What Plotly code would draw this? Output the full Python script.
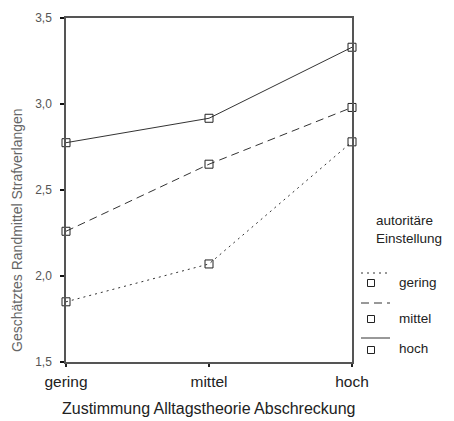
import plotly.graph_objects as go

# ---- data ----
categories = ["gering", "mittel", "hoch"]
series_names = ["gering", "mittel", "hoch"]
vals_gering = [1.85, 2.07, 2.78]
vals_mittel = [2.26, 2.65, 2.98]
vals_hoch = [2.775, 2.917, 3.33]
y_tickvals = [1.5, 2.0, 2.5, 3.0, 3.5]
y_ticktext = ["1,5", "2,0", "2,5", "3,0", "3,5"]

OFF = 8  # page body margin
W, H = 454 - OFF, 421 - OFF
L, T = 66 - OFF, 18 - OFF
PW, PH = 286, 344
R, B = W - L - PW, H - T - PH

def px(x):
    return (x - OFF - L) / PW

def py(y):
    return (T + PH - (y - OFF)) / PH

line_col = "#333333"
dashes = ["2px,4px", "8px,5px", "solid"]
series_vals = [vals_gering, vals_mittel, vals_hoch]

fig = go.Figure()
for name, vals, d in zip(series_names, series_vals, dashes):
    fig.add_trace(go.Scatter(
        x=list(range(len(categories))), y=vals, mode="lines+markers", name=name,
        line=dict(color=line_col, width=1, dash=d),
        marker=dict(symbol="square-open", size=8, color="#222222", line=dict(width=1)),
        cliponaxis=False, showlegend=False,
    ))

font_fam = "Liberation Sans, Arial, sans-serif"

fig.update_layout(
    width=W, height=H,
    margin=dict(l=L, r=R, t=T, b=B, autoexpand=False),
    paper_bgcolor="white", plot_bgcolor="white",
    font=dict(family=font_fam, color="#222222"),
    showlegend=False,
    xaxis=dict(
        range=[0, 2], tickvals=[0, 1, 2], ticktext=categories,
        showgrid=False, zeroline=False,
        showline=True, linecolor="#555555", linewidth=1.5, mirror=True,
        ticks="outside", ticklen=3, tickwidth=2, tickcolor="#222222",
        tickfont=dict(size=15.5, color="#222222"),
        ticklabelstandoff=2,
    ),
    yaxis=dict(
        range=[1.5, 3.5], tickvals=y_tickvals, ticktext=y_ticktext,
        showgrid=False, zeroline=False,
        showline=True, linecolor="#555555", linewidth=1.5, mirror=True,
        ticks="outside", ticklen=4, tickwidth=2, tickcolor="#111111",
        tickfont=dict(size=12, color="#555555"),
        ticklabelstandoff=6,
    ),
)

annotations = [
    dict(text="Geschätztes Randmittel Strafverlangen", x=px(17), y=py(230),
         xref="paper", yref="paper", showarrow=False, textangle=-90,
         font=dict(size=14, color="#666666"), xanchor="center", yanchor="middle"),
    dict(text="Zustimmung Alltagstheorie Abschreckung", x=px(208), y=py(408),
         xref="paper", yref="paper", showarrow=False,
         font=dict(size=16, color="#222222"), xanchor="center", yanchor="middle"),
    dict(text="autoritäre<br>Einstellung", x=px(374), y=py(229),
         xref="paper", yref="paper", showarrow=False, align="left",
         font=dict(size=13.5, color="#222222"), xanchor="left", yanchor="middle"),
]

shapes = []
leg_line_y = [273, 303, 338]
leg_mark_y = [283, 319, 350]
leg_text_y = [282, 318, 348]
for name, d, ly, my, ty in zip(series_names, dashes, leg_line_y, leg_mark_y, leg_text_y):
    shapes.append(dict(type="line", xref="paper", yref="paper",
                       x0=px(361), x1=px(390), y0=py(ly), y1=py(ly),
                       line=dict(color=line_col, width=1, dash=d)))
    shapes.append(dict(type="rect", xref="paper", yref="paper",
                       xsizemode="pixel", ysizemode="pixel",
                       xanchor=px(371), yanchor=py(my),
                       x0=-3.5, x1=3.5, y0=-3.5, y1=3.5,
                       line=dict(color="#222222", width=1), fillcolor="white"))
    annotations.append(dict(text=name, x=px(397), y=py(ty), xref="paper", yref="paper",
                            showarrow=False, xanchor="left", yanchor="middle",
                            font=dict(size=13.5, color="#222222")))

fig.update_layout(annotations=annotations, shapes=shapes)
fig.write_html("out.html")
